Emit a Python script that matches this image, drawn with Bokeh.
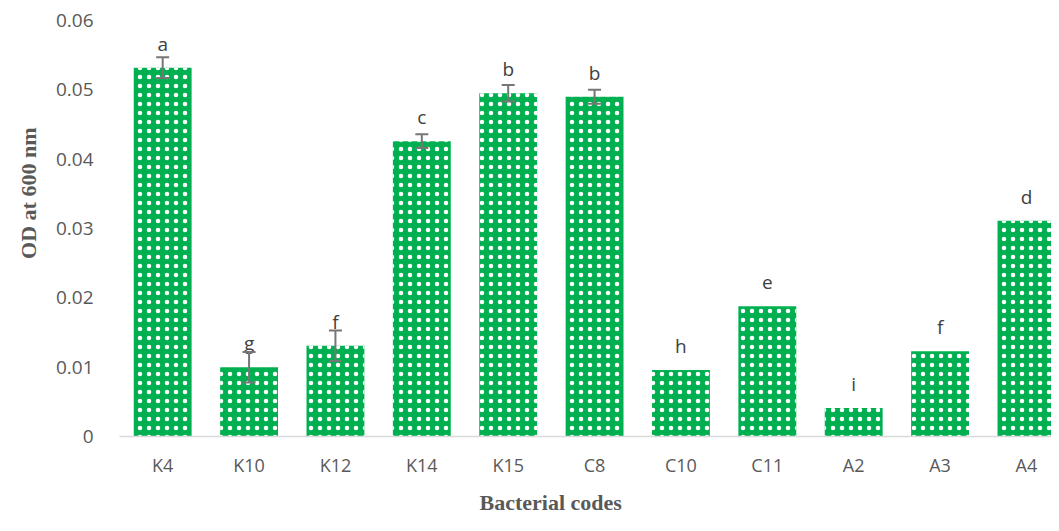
import math
from bokeh.plotting import figure
from bokeh.models import (ColumnDataSource, Range1d, FixedTicker, Whisker, TeeHead, Title)
from bokeh.core.properties import value
from bokeh.embed import file_html
from bokeh.resources import INLINE

codes = ["K4", "K10", "K12", "K14", "K15", "C8", "C10", "C11", "A2", "A3", "A4"]
od = [0.0532, 0.0100, 0.0131, 0.0426, 0.0495, 0.0490, 0.0096, 0.0188, 0.0041, 0.0123, 0.0311]
err = [0.0015, 0.0022, 0.0022, 0.0010, 0.0012, 0.0010, 0.0, 0.0, 0.0, 0.0, 0.0]
letters = ["a", "g", "f", "c", "b", "b", "h", "e", "i", "f", "d"]
y_ticks = [0, 0.01, 0.02, 0.03, 0.04, 0.05, 0.06]
y_tick_labels = ["0", "0.01", "0.02", "0.03", "0.04", "0.05", "0.06"]

idx = list(range(len(codes)))
src = ColumnDataSource(dict(x=idx, od=od, lab=letters))
wsrc = ColumnDataSource(dict(
    x=[i for i, e in zip(idx, err) if e > 0],
    lower=[v - e for v, e in zip(od, err) if e > 0],
    upper=[v + e for v, e in zip(od, err) if e > 0],
))

p = figure(width=1051, height=523, output_backend="svg", toolbar_location=None,
           x_range=Range1d(-0.5, 10.29), y_range=Range1d(0, 0.06),
           min_border_left=119, min_border_right=0, min_border_top=20,
           min_border_bottom=86)
p.outline_line_color = None
p.grid.visible = False

p.vbar(x="x", top="od", width=0.67, source=src, fill_color="#00B050",
       line_color=None, hatch_pattern="dot", hatch_color="white",
       hatch_scale=9, hatch_weight=3, hatch_alpha=1.0)

wh = Whisker(base="x", lower="lower", upper="upper", source=wsrc,
             line_color="#767676", line_width=2, level="overlay",
             upper_head=TeeHead(size=13, line_color="#767676", line_width=2),
             lower_head=TeeHead(size=13, line_color="#767676", line_width=2))
p.add_layout(wh)

p.text(x="x", y="od", text="lab", source=src, y_offset=-24,
       text_align="center", text_baseline="middle",
       text_font=value("Open Sans"), text_font_size="19px", text_color="#404040")

p.xaxis.ticker = FixedTicker(ticks=idx)
p.xaxis.major_label_overrides = {i: c for i, c in zip(idx, codes)}
p.xaxis.axis_line_color = "#d9d9d9"
p.xaxis.axis_line_width = 1.5
p.xaxis.major_tick_line_color = None
p.xaxis.minor_tick_line_color = None
p.xaxis.major_label_standoff = 10
p.xaxis.major_label_text_font = "Open Sans"
p.xaxis.major_label_text_font_size = "18px"
p.xaxis.major_label_text_color = "#595959"

p.yaxis.ticker = FixedTicker(ticks=y_ticks)
p.yaxis.major_label_overrides = {t: l for t, l in zip(y_ticks, y_tick_labels)}
p.yaxis.axis_line_color = None
p.yaxis.major_tick_line_color = None
p.yaxis.minor_tick_line_color = None
p.yaxis.major_label_standoff = 20
p.yaxis.major_label_text_font = "Open Sans"
p.yaxis.major_label_text_font_size = "19px"
p.yaxis.major_label_text_color = "#595959"

p.add_layout(Title(text="Bacterial codes", align="left", offset=360, standoff=17,
                   text_font="Liberation Serif", text_font_style="bold",
                   text_font_size="22px", text_color="#595959"), "below")
p.add_layout(Title(text="OD at 600 nm", align="right", offset=107, standoff=23,
                   text_font="Liberation Serif", text_font_style="bold",
                   text_font_size="22px", text_color="#595959"), "left")

open("out.html", "w").write(file_html(p, INLINE))
